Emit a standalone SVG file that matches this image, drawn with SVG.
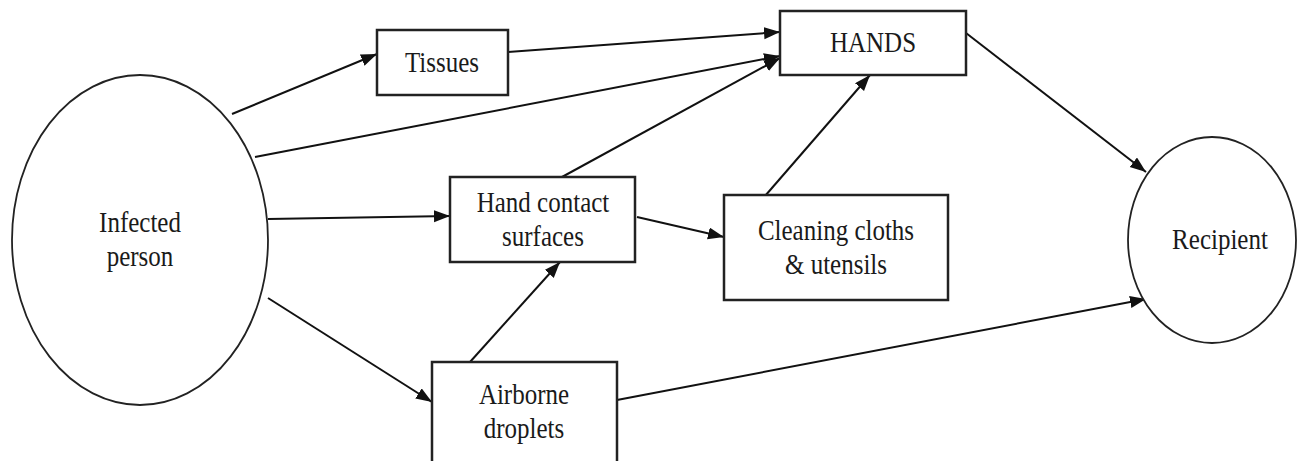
<svg xmlns="http://www.w3.org/2000/svg" width="1299" height="461" viewBox="0 0 1299 461">
<style>
.box{fill:#fff;stroke:#222;stroke-width:2.5}
.oval{fill:#fff;stroke:#222;stroke-width:1.8}
.lbl{font-family:"Liberation Serif","Times New Roman",serif;font-size:25px;fill:#1a1a1a;text-anchor:middle}
.edge{stroke:#111;stroke-width:2;fill:none;marker-end:url(#ah)}
</style>
<defs>
<marker id="ah" markerUnits="userSpaceOnUse" markerWidth="18" markerHeight="14" refX="16" refY="6" orient="auto">
<path d="M0,0 L16,6 L0,12 Z" fill="#111"/>
</marker>
</defs>
<rect width="1299" height="461" fill="#fff"/>
<g id="connectors">
<line class="edge" x1="232" y1="114" x2="377" y2="54"/>
<line class="edge" x1="508" y1="52" x2="780" y2="32"/>
<line class="edge" x1="255" y1="157" x2="780" y2="56"/>
<line class="edge" x1="562" y1="177" x2="780" y2="58"/>
<line class="edge" x1="268" y1="219" x2="450" y2="216"/>
<line class="edge" x1="637" y1="217" x2="724" y2="237"/>
<line class="edge" x1="765" y1="196" x2="870" y2="75"/>
<line class="edge" x1="470" y1="362" x2="560" y2="262"/>
<line class="edge" x1="268" y1="298" x2="432" y2="402"/>
<line class="edge" x1="617" y1="400" x2="1146" y2="299"/>
<line class="edge" x1="966" y1="33" x2="1146" y2="172"/>
</g>
<g id="infected">
<ellipse class="oval" cx="140" cy="240" rx="128" ry="165"/>
<text class="lbl" transform="translate(140,232) scale(1,1.15)">Infected</text>
<text class="lbl" transform="translate(140,266) scale(1,1.15)">person</text>
</g>
<g id="tissues">
<rect class="box" x="377" y="30" width="131" height="65"/>
<text class="lbl" transform="translate(442,72) scale(1,1.15)">Tissues</text>
</g>
<g id="hands">
<rect class="box" x="780" y="11" width="186" height="64"/>
<text class="lbl" transform="translate(873,52) scale(1,1.15)">HANDS</text>
</g>
<g id="hand-contact">
<rect class="box" x="450" y="177" width="185" height="85"/>
<text class="lbl" transform="translate(543,212) scale(1,1.15)">Hand contact</text>
<text class="lbl" transform="translate(543,246) scale(1,1.15)">surfaces</text>
</g>
<g id="cleaning">
<rect class="box" x="724" y="195" width="224" height="105"/>
<text class="lbl" transform="translate(836,240) scale(1,1.15)">Cleaning cloths</text>
<text class="lbl" transform="translate(836,274) scale(1,1.15)">&amp; utensils</text>
</g>
<g id="airborne">
<rect class="box" x="432" y="362" width="185" height="110"/>
<text class="lbl" transform="translate(524,404) scale(1,1.15)">Airborne</text>
<text class="lbl" transform="translate(524,438) scale(1,1.15)">droplets</text>
</g>
<g id="recipient">
<ellipse class="oval" cx="1212" cy="240" rx="84" ry="103"/>
<text class="lbl" transform="translate(1220,249) scale(1,1.15)">Recipient</text>
</g>
</svg>
